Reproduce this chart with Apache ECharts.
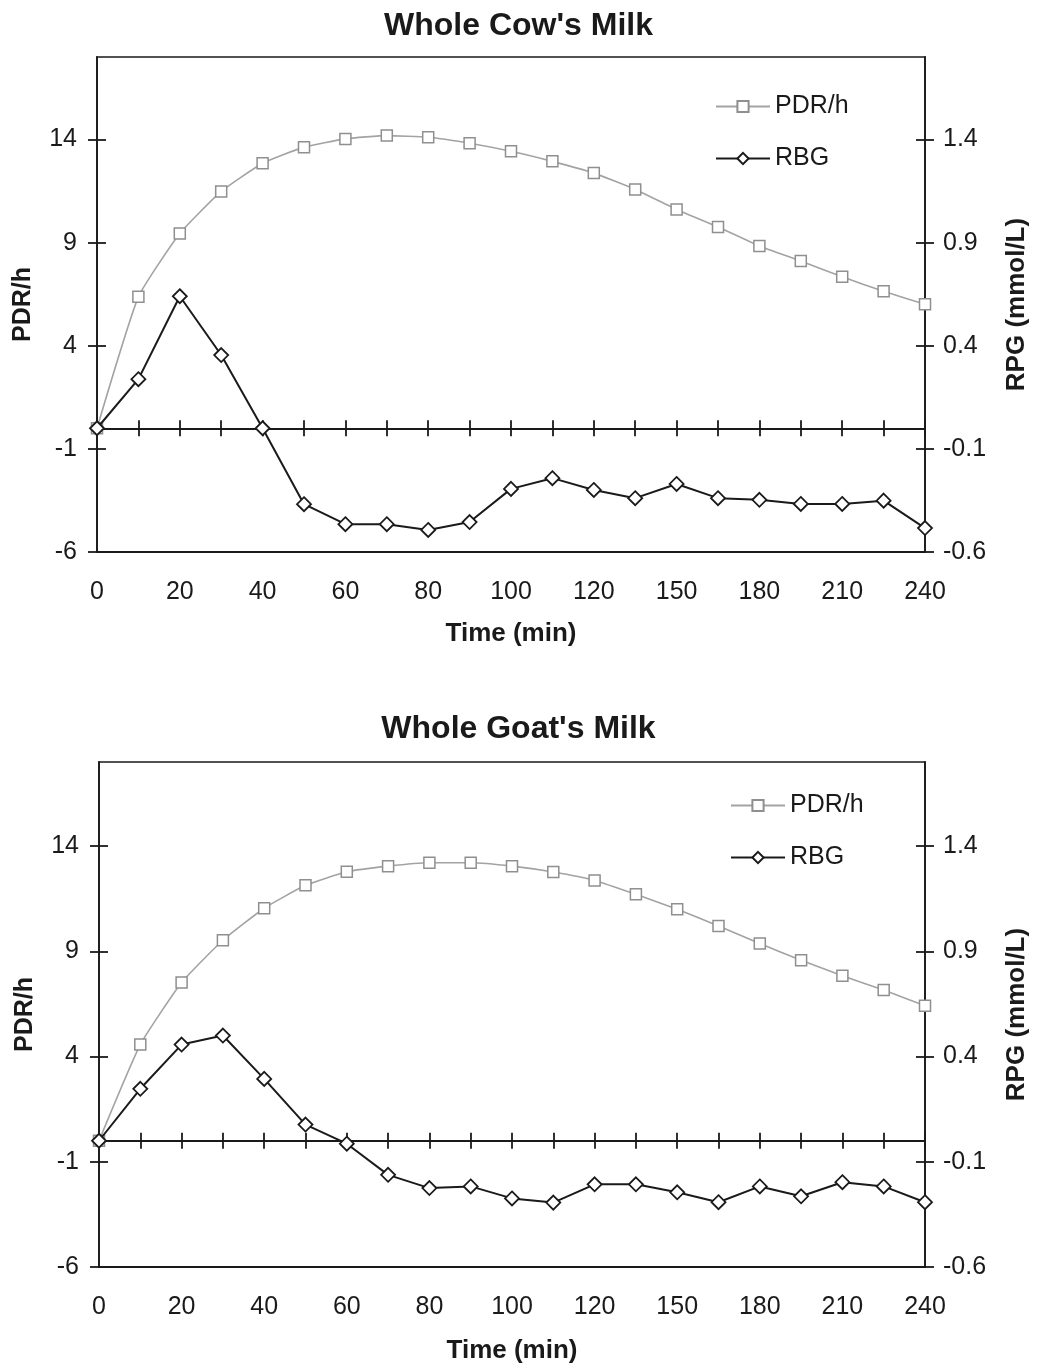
<!DOCTYPE html>
<html>
<head>
<meta charset="utf-8">
<script src="https://cdn.jsdelivr.net/npm/echarts@6/dist/echarts.min.js"></script>
<style>
html,body{margin:0;padding:0;background:#fff;}
#chart{width:1037px;height:1368px;}
</style>
</head>
<body>
<div id="chart"></div>
<script>
// ---- data ----
var times = ['0','10','20','30','40','50','60','70','80','90','100','110','120','135','150','165','180','195','210','225','240'];
var leftTicks = [-6, -1, 4, 9, 14];
var rightTicks = [-0.6, -0.1, 0.4, 0.9, 1.4];
var titles = ["Whole Cow's Milk", "Whole Goat's Milk"];
var cowPDR = [0, 6.37, 9.44, 11.48, 12.85, 13.63, 14.03, 14.19, 14.11, 13.82, 13.43, 12.94, 12.37, 11.58, 10.61, 9.76, 8.84, 8.11, 7.34, 6.64, 6.01];
var cowRBG = [0, 0.238, 0.64, 0.355, 0, -0.368, -0.465, -0.465, -0.493, -0.455, -0.294, -0.242, -0.299, -0.339, -0.270, -0.339, -0.347, -0.367, -0.367, -0.351, -0.484];
var goatPDR = [0, 4.57, 7.52, 9.53, 11.05, 12.14, 12.78, 13.05, 13.21, 13.21, 13.05, 12.77, 12.37, 11.71, 11.0, 10.21, 9.37, 8.58, 7.84, 7.16, 6.42];
var goatRBG = [0, 0.247, 0.457, 0.50, 0.294, 0.077, -0.014, -0.162, -0.225, -0.217, -0.274, -0.294, -0.207, -0.207, -0.245, -0.292, -0.217, -0.264, -0.197, -0.217, -0.292];

var FONT = '"Liberation Sans", Arial, sans-serif';
var INK = '#1a1a1a';
var GRAYLINE = '#a3a3a3';

var gridsLayout = [
  {left: 97, top: 57, width: 828, height: 495, titleTop: 5, legendTop: 89, legendLeft: 710},
  {left: 99, top: 762, width: 826, height: 505, titleTop: 708, legendTop: 788, legendLeft: 725}
];
var pdrSets = [cowPDR, goatPDR];
var rbgSets = [cowRBG, goatRBG];

var option = {
  animation: false,
  backgroundColor: '#fff',
  textStyle: {fontFamily: FONT, color: INK},
  title: [], grid: [], xAxis: [], yAxis: [], series: [], legend: []
};

gridsLayout.forEach(function (g, gi) {
  var xb = gi * 3, yb = gi * 4;
  option.title.push({
    text: titles[gi], left: 'center', top: g.titleTop,
    textStyle: {fontFamily: FONT, fontSize: 32, fontWeight: 'bold', color: INK}
  });
  option.grid.push({
    left: g.left, top: g.top, width: g.width, height: g.height,
    containLabel: false, outerBoundsMode: 'none',
    show: true, borderColor: INK, borderWidth: 1.5, backgroundColor: 'transparent'
  });
  var lineStyle = {color: INK, width: 1.8};
  // zero-line axis, ticks downward
  option.xAxis.push({
    type: 'category', gridIndex: gi, data: times, boundaryGap: false, position: 'bottom',
    axisLine: {show: true, onZero: true, onZeroAxisIndex: yb, lineStyle: lineStyle},
    axisTick: {show: true, interval: 0, length: 8, inside: false, lineStyle: lineStyle},
    axisLabel: {show: false}, splitLine: {show: false}
  });
  // zero-line axis, ticks upward
  option.xAxis.push({
    type: 'category', gridIndex: gi, data: times, boundaryGap: false, position: 'top',
    axisLine: {show: true, onZero: true, onZeroAxisIndex: yb, lineStyle: lineStyle},
    axisTick: {show: true, interval: 0, length: 8, inside: false, lineStyle: lineStyle},
    axisLabel: {show: false}, splitLine: {show: false}
  });
  // bottom label axis
  option.xAxis.push({
    type: 'category', gridIndex: gi, data: times, boundaryGap: false, position: 'bottom',
    axisLine: {show: true, onZero: false, lineStyle: lineStyle},
    axisTick: {show: false},
    axisLabel: {show: true, interval: 1, margin: 28, fontSize: 25, fontFamily: FONT, color: INK},
    splitLine: {show: false},
    name: 'Time (min)', nameLocation: 'middle', nameGap: gi === 0 ? 69 : 71,
    nameTextStyle: {fontFamily: FONT, fontSize: 26, fontWeight: 'bold', color: INK}
  });
  // left main
  option.yAxis.push({
    type: 'value', gridIndex: gi, position: 'left', min: -6, max: 18,
    axisLine: {show: true, onZero: false, lineStyle: lineStyle},
    axisTick: {show: true, length: 9, inside: false, customValues: leftTicks, lineStyle: lineStyle},
    axisLabel: {show: true, customValues: leftTicks, margin: 20, fontSize: 25, fontFamily: FONT, color: INK},
    splitLine: {show: false},
    name: 'PDR/h', nameLocation: 'middle', nameGap: 61,
    nameTextStyle: {fontFamily: FONT, fontSize: 25, fontWeight: 'bold', color: INK}
  });
  // right main
  option.yAxis.push({
    type: 'value', gridIndex: gi, position: 'right', min: -0.6, max: 1.8,
    axisLine: {show: true, onZero: false, lineStyle: lineStyle},
    axisTick: {show: true, length: 9, inside: false, customValues: rightTicks, lineStyle: lineStyle},
    axisLabel: {show: true, customValues: rightTicks, margin: 18, fontSize: 25, fontFamily: FONT, color: INK,
      formatter: function (v) { return v.toFixed(1); }},
    splitLine: {show: false},
    name: 'RPG (mmol/L)', nameLocation: 'middle', nameGap: 79,
    nameTextStyle: {fontFamily: FONT, fontSize: 26, fontWeight: 'bold', color: INK}
  });
  // left inner ticks
  option.yAxis.push({
    type: 'value', gridIndex: gi, position: 'left', min: -6, max: 18,
    axisLine: {show: false, onZero: false},
    axisTick: {show: true, length: 9, inside: true, customValues: leftTicks, lineStyle: lineStyle},
    axisLabel: {show: false}, splitLine: {show: false}
  });
  // right inner ticks
  option.yAxis.push({
    type: 'value', gridIndex: gi, position: 'right', min: -0.6, max: 1.8,
    axisLine: {show: false, onZero: false},
    axisTick: {show: true, length: 9, inside: true, customValues: rightTicks, lineStyle: lineStyle},
    axisLabel: {show: false}, splitLine: {show: false}
  });
  option.series.push({
    name: 'PDR/h', type: 'line', xAxisIndex: xb + 2, yAxisIndex: yb, data: pdrSets[gi],
    smooth: 0.15, symbol: 'rect', symbolSize: 11,
    lineStyle: {color: GRAYLINE, width: 1.6},
    itemStyle: {color: '#fff', borderColor: '#8f8f8f', borderWidth: 1.5}, z: 3
  });
  option.series.push({
    name: 'RBG', type: 'line', xAxisIndex: xb + 2, yAxisIndex: yb + 1, data: rbgSets[gi],
    symbol: 'diamond', symbolSize: 14,
    lineStyle: {color: INK, width: 2},
    itemStyle: {color: '#fff', borderColor: INK, borderWidth: 1.8}, z: 4
  });
  option.legend.push({
    data: ['PDR/h', 'RBG'], orient: 'vertical', left: g.legendLeft, top: g.legendTop,
    itemWidth: 54, itemHeight: 14, itemGap: 27,
    textStyle: {fontFamily: FONT, fontSize: 25, color: INK}
  });
});

var chart = echarts.init(document.getElementById('chart'), null, {renderer: 'canvas'});
chart.setOption(option);
</script>
</body>
</html>
